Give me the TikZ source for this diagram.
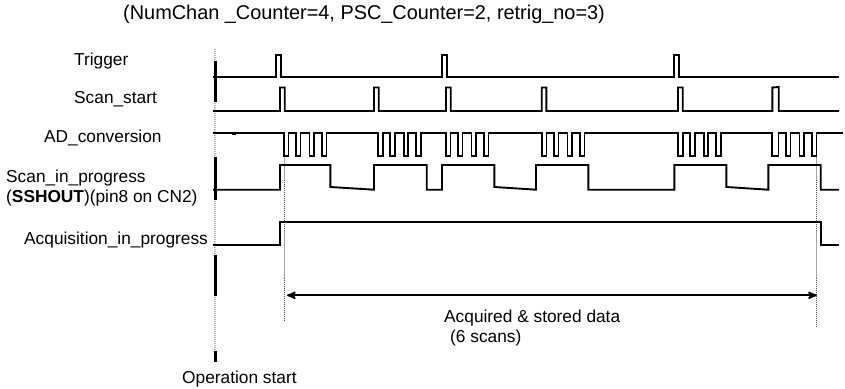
\documentclass[tikz,border=0pt]{standalone}
\usepackage{xcolor}
\usepackage{fontspec}
\setmainfont{Liberation Sans}
\usetikzlibrary{arrows,positioning}

\tikzset{
    sig/.style={line width=1.9pt},
    lbl/.style={anchor=base west,inner sep=0pt,font=\fontsize{17.3}{20}\selectfont},
    guide/.style={gray!70,line width=0.7pt},
    dots/.style={black!70,line width=1pt,dash pattern=on 1pt off 1pt},
    startmark/.style={line width=3pt}
}

\begin{document}
\begin{tikzpicture}[x=1pt,y=-1pt]
    \useasboundingbox (0,0) rectangle (845,388);

    % Title and signal names
    \node[lbl,font=\fontsize{19.9}{24}\selectfont] (title) at (123,19) {(NumChan \_Counter=4, PSC\_Counter=2, retrig\_no=3)};
    \node[lbl] (trigger) at (74,65) {Trigger};
    \node[lbl] (scanstart) at (74,103) {Scan\_start};
    \node[lbl] (adconv) at (44,142) {AD\_conversion};
    \node[lbl] (scanprog) at (6,182) {Scan\_in\_progress};
    \node[lbl] (sshout) at (6,202) {(\textbf{SSHOUT})(pin8 on CN2)};
    \node[lbl] (acqprog) at (24,244) {Acquisition\_in\_progress};
    \node[lbl] (acqdata) at (444,322) {Acquired \& stored data};
    \node[lbl] (scans) at (450,342) {(6 scans)};
    \node[lbl] (opstart) at (182,383) {Operation start};

    % Operation start line
    \draw[gray!60,line width=2pt,dash pattern=on 1pt off 1pt] (215,49) -- (215,351);
    \foreach \a/\b in {60.7/101.7, 156.7/200, 255/296, 351/361.7} {
        \draw[startmark] (215,\a) -- (215,\b);
    }

    % Guides at both ends of the stored data
    \foreach \x/\e in {284.5/322, 816.7/327} {
        \draw[guide] (\x,155.7) -- (\x,180);
        \draw[dots] (\x,180) -- (\x,231);
        \draw[guide] (\x,231) -- (\x,278);
        \draw[dots] (\x,278) -- (\x,\e);
    }

    % Trigger
    \draw[sig] (213,77.3) -| (276,55) -| (280.7,77.3) -| (442,55) -| (446.7,77.3)
        -| (674,55) -| (678.7,77.3) -- (839,77.3);

    % Scan_start
    \draw[sig] (213,111) -| (280,87.5) -| (284.7,111) -| (374,87.5) -| (378.7,111)
        -| (446,87.5) -| (450.7,111) -| (541.7,87.5) -| (546.3,111)
        -| (678,87.5) -| (682.7,111) -| (772.3,87.5) -- (778.7,87) -- (778.7,111) -- (839,111);

    % AD_conversion
    \draw[line width=2.6pt] (232,133.3) -- (236,133.3);
    \draw[sig] (213,133.3)
        foreach \g/\w in {284/4.5, 378.3/4.5, 446/4.5, 542/4.5, 678.3/4.5, 772.3/6.2} {
            -- (\g,133.3) -- (\g,155.7) -- (\g+\w,155.7) -- (\g+\w,133.3)
            foreach \d in {12,25.5,38} {
                -- (\g+\d+\w-4.5,133.3) -- (\g+\d+\w-4.5,155.7) -- (\g+\d+\w,155.7) -- (\g+\d+\w,133.3)
            }
        } -- (843,133.3);

    % Scan_in_progress
    \draw[sig] (213,189.7) -| (280,165) -| (330.3,187) -- (374,189.7) |- (426.7,165)
        |- (442,189.7) |- (494.3,165) |- (494.3,187) -- (536,189.7) |- (588.3,165)
        |- (674.3,189.7) |- (726.3,165) |- (726.3,187) -- (768.3,189.7) |- (820.7,165)
        |- (839,189.7);

    % Acquisition_in_progress
    \draw[sig] (213,245.3) -| (280,221.7) -| (820.7,245.3) -- (839,245.3);

    % Stored data span
    \coordinate (spanl) at (286.5,295.3);
    \coordinate (spanr) at (817.3,295.3);
    \draw[sig,<->,>=stealth',shorten >=0.5pt,shorten <=0.5pt] (spanl) -- (spanr);
\end{tikzpicture}
\end{document}
